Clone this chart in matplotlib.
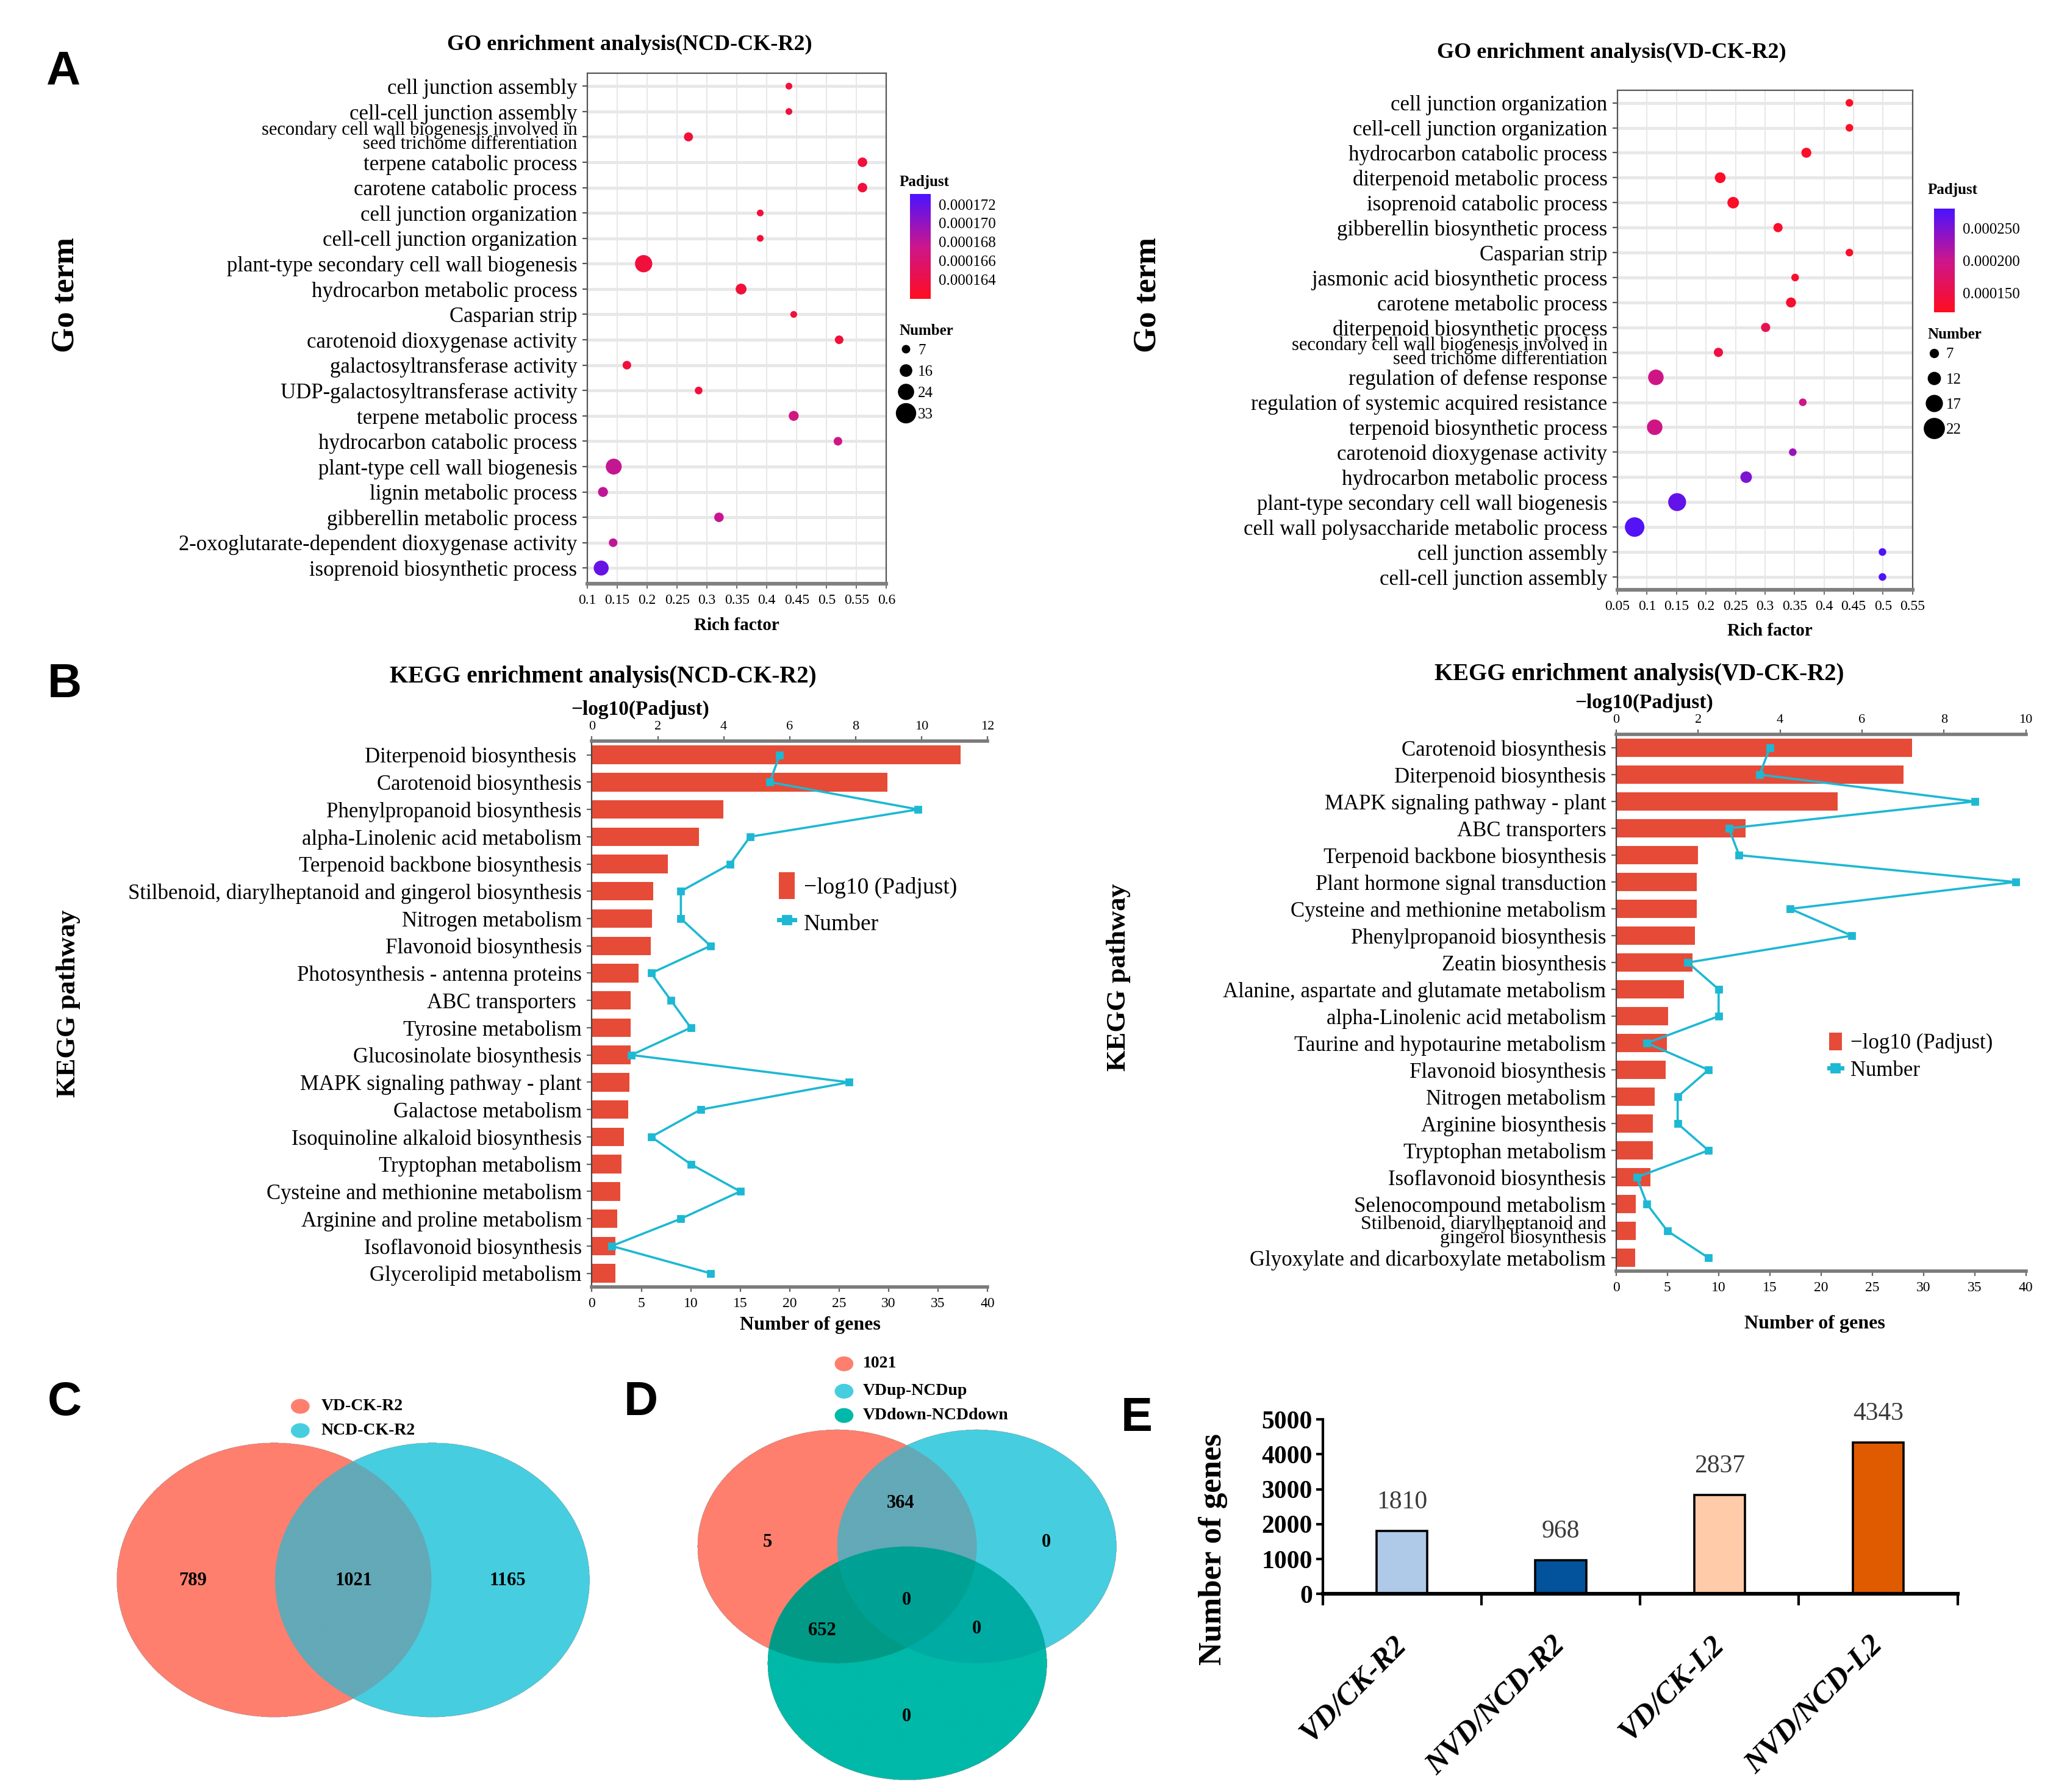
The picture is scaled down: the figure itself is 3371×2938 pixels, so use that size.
import numpy as np
import matplotlib.pyplot as plt
from matplotlib.colors import LinearSegmentedColormap, Normalize, to_rgba
from matplotlib.lines import Line2D
from matplotlib.patches import Patch, Ellipse
from matplotlib.transforms import ScaledTranslation

plt.rcParams['font.family'] = ['Liberation Serif', 'DejaVu Serif']

# ---------------- data ----------------
# A: GO enrichment (NCD-CK-R2)
go_ncd_terms = [
    'cell junction assembly',
    'cell-cell junction assembly',
    'secondary cell wall biogenesis involved in\nseed trichome differentiation',
    'terpene catabolic process',
    'carotene catabolic process',
    'cell junction organization',
    'cell-cell junction organization',
    'plant-type secondary cell wall biogenesis',
    'hydrocarbon metabolic process',
    'Casparian strip',
    'carotenoid dioxygenase activity',
    'galactosyltransferase activity',
    'UDP-galactosyltransferase activity',
    'terpene metabolic process',
    'hydrocarbon catabolic process',
    'plant-type cell wall biogenesis',
    'lignin metabolic process',
    'gibberellin metabolic process',
    '2-oxoglutarate-dependent dioxygenase activity',
    'isoprenoid biosynthetic process',
]
go_ncd_rich = [0.437, 0.437, 0.269, 0.560, 0.560, 0.389, 0.389, 0.194, 0.357, 0.445,
               0.521, 0.166, 0.286, 0.445, 0.519, 0.144, 0.126, 0.320, 0.143, 0.123]
go_ncd_number = [7, 7, 12, 13, 13, 7, 7, 30, 16, 7, 11, 11, 9, 14, 11, 27, 14, 13, 11, 25]
go_ncd_padj = [0.0001634, 0.0001634, 0.0001634, 0.0001634, 0.0001634, 0.0001634, 0.0001634,
               0.0001634, 0.0001634, 0.0001634, 0.0001634, 0.0001634, 0.0001634, 0.0001668,
               0.0001672, 0.0001678, 0.0001680, 0.0001676, 0.0001680, 0.0001718]
go_ncd_size_breaks = [7, 16, 24, 33]
go_ncd_padj_ticks = [0.000164, 0.000166, 0.000168, 0.000170, 0.000172]

# A: GO enrichment (VD-CK-R2)
go_vd_terms = [
    'cell junction organization',
    'cell-cell junction organization',
    'hydrocarbon catabolic process',
    'diterpenoid metabolic process',
    'isoprenoid catabolic process',
    'gibberellin biosynthetic process',
    'Casparian strip',
    'jasmonic acid biosynthetic process',
    'carotene metabolic process',
    'diterpenoid biosynthetic process',
    'secondary cell wall biogenesis involved in\nseed trichome differentiation',
    'regulation of defense response',
    'regulation of systemic acquired resistance',
    'terpenoid biosynthetic process',
    'carotenoid dioxygenase activity',
    'hydrocarbon metabolic process',
    'plant-type secondary cell wall biogenesis',
    'cell wall polysaccharide metabolic process',
    'cell junction assembly',
    'cell-cell junction assembly',
]
go_vd_rich = [0.443, 0.443, 0.370, 0.224, 0.246, 0.322, 0.443, 0.351, 0.344, 0.301,
              0.221, 0.115, 0.364, 0.113, 0.347, 0.268, 0.151, 0.079, 0.499, 0.499]
go_vd_number = [7, 7, 10, 11, 12, 9, 7, 7, 10, 9, 9, 17, 7, 17, 7, 12, 20, 22, 7, 7]
go_vd_padj = [0.000126, 0.000126, 0.000128, 0.000128, 0.000128, 0.000130, 0.000130, 0.000132,
              0.000132, 0.000158, 0.000145, 0.000195, 0.000198, 0.000195, 0.000232, 0.000250,
              0.000265, 0.000274, 0.000277, 0.000277]
go_vd_size_breaks = [7, 12, 17, 22]
go_vd_padj_ticks = [0.000150, 0.000200, 0.000250]

# B: KEGG enrichment (NCD-CK-R2)
kegg_ncd_paths = [
    'Diterpenoid biosynthesis ', 'Carotenoid biosynthesis', 'Phenylpropanoid biosynthesis',
    'alpha-Linolenic acid metabolism', 'Terpenoid backbone biosynthesis',
    'Stilbenoid, diarylheptanoid and gingerol biosynthesis', 'Nitrogen metabolism',
    'Flavonoid biosynthesis', 'Photosynthesis - antenna proteins', 'ABC transporters ',
    'Tyrosine metabolism', 'Glucosinolate biosynthesis', 'MAPK signaling pathway - plant',
    'Galactose metabolism', 'Isoquinoline alkaloid biosynthesis', 'Tryptophan metabolism',
    'Cysteine and methionine metabolism', 'Arginine and proline metabolism',
    'Isoflavonoid biosynthesis', 'Glycerolipid metabolism',
]
kegg_ncd_logp = [11.18, 8.97, 3.99, 3.25, 2.31, 1.87, 1.83, 1.79, 1.42, 1.18,
                 1.18, 1.18, 1.14, 1.10, 0.98, 0.90, 0.86, 0.76, 0.72, 0.72]
kegg_ncd_number = [19, 18, 33, 16, 14, 9, 9, 12, 6, 8, 10, 4, 26, 11, 6, 10, 15, 9, 2, 12]

# B: KEGG enrichment (VD-CK-R2)
kegg_vd_paths = [
    'Carotenoid biosynthesis', 'Diterpenoid biosynthesis', 'MAPK signaling pathway - plant',
    'ABC transporters', 'Terpenoid backbone biosynthesis', 'Plant hormone signal transduction',
    'Cysteine and methionine metabolism', 'Phenylpropanoid biosynthesis', 'Zeatin biosynthesis',
    'Alanine, aspartate and glutamate metabolism', 'alpha-Linolenic acid metabolism',
    'Taurine and hypotaurine metabolism', 'Flavonoid biosynthesis', 'Nitrogen metabolism',
    'Arginine biosynthesis', 'Tryptophan metabolism', 'Isoflavonoid biosynthesis',
    'Selenocompound metabolism', 'Stilbenoid, diarylheptanoid and\ngingerol biosynthesis',
    'Glyoxylate and dicarboxylate metabolism',
]
kegg_vd_logp = [7.22, 7.02, 5.40, 3.16, 2.00, 1.97, 1.97, 1.92, 1.86, 1.65,
                1.27, 1.24, 1.21, 0.94, 0.90, 0.90, 0.83, 0.48, 0.48, 0.46]
kegg_vd_number = [15, 14, 35, 11, 12, 39, 17, 23, 7, 10, 10, 3, 9, 6, 6, 9, 2, 3, 5, 9]

# C: Venn of DEGs
venn_c_sets = ['VD-CK-R2', 'NCD-CK-R2']
venn_c_counts = [789, 1021, 1165]          # only A, A&B, only B

# D: Venn of shared DEGs
venn_d_sets = ['1021', 'VDup-NCDup', 'VDdown-NCDdown']
venn_d_counts = [5, 364, 0, 0, 652, 0, 0]  # A, A&B, B, A&B&C, A&C, B&C, C

# E: number of DEGs
deg_groups = ['VD/CK-R2', 'NVD/NCD-R2', 'VD/CK-L2', 'NVD/NCD-L2']
deg_counts = [1810, 968, 2837, 4343]

# ---------------- styling ----------------
go_cmap = LinearSegmentedColormap.from_list('padj', ['#FF0D1F', '#CC168C', '#4B12FF'])
bar_red = '#E64B37'
line_cyan = '#1DB8D3'
deg_colors = ['#AFC9E9', '#02529C', '#FFCBA8', '#E05A00']
salmon, cyan, teal = '#FF7F6E', '#46CEE0', '#00B9A8'

W, H = 1568.0, 1366.0


def fx(x):
    return x / W


def fy(y):
    return 1 - y / H


def fig_box(left, top, right, bottom):
    return [left / W, 1 - bottom / H, (right - left) / W, (bottom - top) / H]


fig = plt.figure(figsize=(3371 / 200, 2938 / 200), dpi=200)


def panel_letter(x, y, s):
    fig.text(fx(x), fy(y), s, family='Liberation Sans', fontweight='bold',
             fontsize=28, ha='center', va='center')


def shrink_wrapped(ax, size):
    # two-line labels are squeezed so they crowd their neighbours less
    for t in ax.get_yticklabels():
        if '\n' in t.get_text():
            t.set_fontsize(size)
            t.set_linespacing(0.72)


def go_panel(rect, cbar_rect, terms, rich, number, padj, xlim, xticks, vmin, vmax,
             cticks, breaks, dsize, ylim_pad, title, title_xy, padj_xy, num_xy, leg_xy,
             leg_spacing, xlabel_xy, ylabel_xy):
    ax = fig.add_axes(rect)
    y = np.arange(len(terms))
    num = np.array(number, dtype=float)
    diam = dsize[0] + (num - breaks[0]) / (breaks[-1] - breaks[0]) * (dsize[1] - dsize[0])
    norm = Normalize(vmin=vmin, vmax=vmax)
    sc = ax.scatter(rich, y, s=diam ** 2, c=padj, cmap=go_cmap, norm=norm,
                    edgecolors='none', zorder=3)
    ax.set_xlim(*xlim)
    ax.set_ylim(len(terms) - 1 + ylim_pad[1], -ylim_pad[0])
    ax.set_yticks(y, terms, fontsize=12.5)
    ax.set_xticks(xticks, [f'{v:g}' for v in xticks], fontsize=8.5)
    shrink_wrapped(ax, 11)
    ax.grid(axis='x', color='#E3E3E3', lw=0.6)
    ax.grid(axis='y', color='#E8E8E8', lw=1.8)
    ax.set_axisbelow(True)
    for s in ['left', 'right', 'top']:
        ax.spines[s].set_color('#555555')
        ax.spines[s].set_linewidth(0.8)
    ax.spines['bottom'].set_color('#808080')
    ax.spines['bottom'].set_linewidth(2.2)
    ax.tick_params(axis='y', length=3, width=0.8, color='#555555', pad=3)
    ax.tick_params(axis='x', length=3, width=0.6, color='#555555', pad=3)

    fig.text(fx(title_xy[0]), fy(title_xy[1]), title, fontsize=13, fontweight='bold',
             ha='center', va='center')
    fig.text(fx(xlabel_xy[0]), fy(xlabel_xy[1]), 'Rich factor', fontsize=10.5,
             fontweight='bold', ha='center', va='center')
    fig.text(fx(ylabel_xy[0]), fy(ylabel_xy[1]), 'Go term', fontsize=19,
             fontweight='bold', rotation=90, ha='center', va='center')

    cax = fig.add_axes(cbar_rect)
    cb = fig.colorbar(sc, cax=cax, ticks=cticks)
    cb.ax.set_yticklabels([f'{v:.6f}' for v in cticks], fontsize=9)
    cb.outline.set_visible(False)
    cb.ax.tick_params(length=2.5, width=0.6, color='white', pad=2)
    fig.text(fx(padj_xy[0]), fy(padj_xy[1]), 'Padjust', fontsize=9,
             fontweight='bold', ha='left', va='center')
    fig.text(fx(num_xy[0]), fy(num_xy[1]), 'Number', fontsize=9,
             fontweight='bold', ha='left', va='center')

    bdiam = [dsize[0] + (b - breaks[0]) / (breaks[-1] - breaks[0]) * (dsize[1] - dsize[0])
             for b in breaks]
    handles = [Line2D([], [], ls='', marker='o', color='black', markersize=d) for d in bdiam]
    ax.legend(handles, [str(b) for b in breaks], loc='upper left',
              bbox_to_anchor=(fx(leg_xy[0]), fy(leg_xy[1])),
              bbox_transform=fig.transFigure, frameon=False, fontsize=9,
              labelspacing=leg_spacing, handletextpad=0.3,
              handlelength=1.0, borderpad=0, borderaxespad=0)
    return ax


go_panel(fig_box(448, 56, 676, 445), fig_box(694, 148, 710, 228),
         go_ncd_terms, go_ncd_rich, go_ncd_number, go_ncd_padj,
         (0.1, 0.6), np.round(np.arange(0.1, 0.601, 0.05), 2), 0.0001619, 0.0001731,
         go_ncd_padj_ticks, go_ncd_size_breaks, (4.0, 11.0), (0.5, 0.62),
         'GO enrichment analysis(NCD-CK-R2)', (480, 34), (686, 139), (686, 252),
         (685, 262), 0.5, (562, 477), (50, 225))

go_panel(fig_box(1233.6, 68.6, 1458.6, 449.6), fig_box(1475, 159, 1491, 238),
         go_vd_terms, go_vd_rich, go_vd_number, go_vd_padj,
         (0.05, 0.55), np.round(np.arange(0.05, 0.551, 0.05), 2), 0.000121, 0.000280,
         go_vd_padj_ticks, go_vd_size_breaks, (4.5, 11.5), (0.515, 0.515),
         'GO enrichment analysis(VD-CK-R2)', (1229, 40), (1470, 145), (1470, 255),
         (1469, 265), 0.75, (1350, 481), (875, 225))


def kegg_panel(rect, paths, logp, number, top_max, title, title_xy, sub_xy,
               xlabel_xy, ylabel_xy, leg_xy, leg_kw):
    ax = fig.add_axes(rect)
    y = np.arange(len(paths))
    ax.barh(y, logp, height=0.68, color=bar_red, zorder=2)
    ax.set_xlim(0, top_max)
    ax.set_ylim(len(paths) - 0.5, -0.5)
    ax.set_yticks(y, paths, fontsize=12.5)
    shrink_wrapped(ax, 11.5)

    ax2 = ax.twiny()
    ax2.plot(number, y, color=line_cyan, marker='s', ms=3.5, lw=1.3, zorder=3)
    ax2.set_xlim(0, 40)
    ax2.set_xticks(np.arange(0, 41, 5))
    ax2.xaxis.tick_bottom()
    ax2.tick_params(axis='x', labelsize=8.5, length=3, color='#666666', pad=3)
    for s in ['top', 'right', 'left']:
        ax2.spines[s].set_visible(False)
    ax2.spines['bottom'].set_color('#7A7A7A')
    ax2.spines['bottom'].set_linewidth(2.0)

    # bars use the top axis (-log10 Padjust)
    ax.xaxis.tick_top()
    ax.set_xticks(np.arange(0, top_max + 1, 2))
    ax.tick_params(axis='x', labelsize=8, length=3, color='#666666', pad=2)
    ax.tick_params(axis='y', length=3, width=0.8, color='#666666', pad=3)
    ax.spines['right'].set_visible(False)
    ax.spines['bottom'].set_visible(False)
    ax.spines['top'].set_color('#7A7A7A')
    ax.spines['top'].set_linewidth(2.0)
    ax.spines['left'].set_color('#444444')
    ax.spines['left'].set_linewidth(0.8)

    fig.text(fx(title_xy[0]), fy(title_xy[1]), title, fontsize=14, fontweight='bold',
             ha='center', va='center')
    fig.text(fx(sub_xy[0]), fy(sub_xy[1]), '\u2212log10(Padjust)', fontsize=12,
             fontweight='bold', ha='center', va='center')
    fig.text(fx(xlabel_xy[0]), fy(xlabel_xy[1]), 'Number of genes', fontsize=11.5,
             fontweight='bold', ha='center', va='center')
    fig.text(fx(ylabel_xy[0]), fy(ylabel_xy[1]), 'KEGG pathway', fontsize=16,
             fontweight='bold', rotation=90, ha='center', va='center')

    handles = [Patch(facecolor=bar_red, edgecolor='none'),
               Line2D([], [], color=line_cyan, marker='s', ms=5, lw=2.5)]
    ax2.legend(handles, ['\u2212log10 (Padjust)', 'Number'], loc='upper left',
               bbox_to_anchor=(fx(leg_xy[0]), fy(leg_xy[1])), bbox_transform=fig.transFigure,
               frameon=False, borderpad=0, borderaxespad=0, **leg_kw)


kegg_panel(fig_box(451.4, 565, 753, 981), kegg_ncd_paths, kegg_ncd_logp, kegg_ncd_number,
           12, 'KEGG enrichment analysis(NCD-CK-R2)', (460, 516), (488, 541),
           (618, 1010), (52, 765), (594, 665),
           dict(fontsize=13.5, handlelength=0.7, handleheight=1.4, handletextpad=0.4,
                labelspacing=0.45))
kegg_panel(fig_box(1232.6, 559.8, 1545, 969), kegg_vd_paths, kegg_vd_logp, kegg_vd_number,
           10, 'KEGG enrichment analysis(VD-CK-R2)', (1250, 514), (1254, 536),
           (1384, 1009), (853, 745), (1395, 787),
           dict(fontsize=12.5, handlelength=0.6, handleheight=0.9, handletextpad=0.4,
                labelspacing=0.3))

# ---------------- C & D: Venn diagrams ----------------
axv = fig.add_axes(fig_box(0, 1030, 860, 1366))
axv.set_xlim(0, 860)
axv.set_ylim(1366, 1030)
axv.axis('off')

gx = np.linspace(80, 860, 2800)
gy = np.linspace(1085, 1366, 1010)
X, Y = np.meshgrid(gx, gy)


def inside(cx, cy, w, h):
    return ((X - cx) / (w / 2)) ** 2 + ((Y - cy) / (h / 2)) ** 2 <= 1


c_shapes = [(209, 1204.5, 240, 209), (329.6, 1204.5, 240, 209)]
d_shapes = [(638.5, 1179, 213, 178), (745, 1179, 213, 178), (692, 1268, 213, 178)]

code_c = inside(*c_shapes[0]) * 1 + inside(*c_shapes[1]) * 2
code_d = inside(*d_shapes[0]) * 1 + inside(*d_shapes[1]) * 2 + inside(*d_shapes[2]) * 4
img = np.zeros(X.shape + (4,))
c_colors = {1: salmon, 2: cyan, 3: '#63A9B7'}
d_colors = {1: salmon, 2: cyan, 3: '#63A9B7', 4: teal, 5: '#009A86', 6: '#00ABA3', 7: '#00A195'}
for k, col in c_colors.items():
    img[code_c == k] = to_rgba(col)
for k, col in d_colors.items():
    img[code_d == k] = to_rgba(col)
axv.imshow(img, extent=(80, 860, 1366, 1085), origin='upper', aspect='auto',
           interpolation='antialiased', zorder=1)

c_text_xy = [(147, 1205), (270, 1205), (387, 1205)]
for (tx, ty), v in zip(c_text_xy, venn_c_counts):
    axv.text(tx, ty, str(v), ha='center', va='center', fontsize=11, fontweight='bold', zorder=3)
d_text_xy = [(585.5, 1175.5), (686.8, 1146), (797.8, 1175.5), (691.4, 1219.6),
             (627, 1243), (745, 1241.7), (691.4, 1308.5)]
for (tx, ty), v in zip(d_text_xy, venn_d_counts):
    axv.text(tx, ty, str(v), ha='center', va='center', fontsize=11, fontweight='bold', zorder=3)

for name, col, ly in zip(venn_c_sets, [salmon, cyan], [1072, 1090.5]):
    axv.add_patch(Ellipse((229, ly), 13, 10, color=col, zorder=3))
    axv.text(245, ly, name, ha='left', va='center', fontsize=10, fontweight='bold')
for name, col, ly in zip(venn_d_sets, [salmon, cyan, teal], [1039.6, 1060.5, 1079]):
    axv.add_patch(Ellipse((643.7, ly), 13, 10, color=col, zorder=3))
    axv.text(658, ly, name, ha='left', va='center', fontsize=10, fontweight='bold')

# ---------------- E: number of DEGs ----------------
axe = fig.add_axes(fig_box(1008.7, 1082, 1493, 1215))
xe = np.arange(len(deg_groups))
axe.bar(xe, deg_counts, width=0.32, color=deg_colors, edgecolor='black', linewidth=1.3,
        zorder=2)
for xi, v in zip(xe, deg_counts):
    axe.annotate(str(v), (xi, v), xytext=(0, 17), textcoords='offset points',
                 ha='center', va='center', fontsize=15, color='#3A3A3A', annotation_clip=False)
axe.set_ylim(0, 5000)
axe.set_yticks(np.arange(0, 5001, 1000))
axe.set_yticklabels([str(v) for v in range(0, 5001, 1000)], fontsize=15, fontweight='bold')
axe.set_xlim(-0.5, len(deg_groups) - 0.5)
axe.set_xticks(xe, deg_groups, rotation=45, ha='right', va='top', fontsize=18,
               fontweight='bold', fontstyle='italic')
axe.set_xticks(np.arange(-0.5, len(deg_groups)), minor=True)
axe.tick_params(axis='x', which='major', length=0, pad=22)
axe.tick_params(axis='x', which='minor', length=7, width=1.5, direction='out')
axe.tick_params(axis='y', length=4, width=1.5, pad=2)
for lab in axe.get_xticklabels():
    lab.set_transform(lab.get_transform() + ScaledTranslation(6 / 72, 0, fig.dpi_scale_trans))
for s in ['top', 'right']:
    axe.spines[s].set_visible(False)
axe.spines['left'].set_linewidth(1.5)
axe.spines['bottom'].set_linewidth(2.2)
fig.text(fx(925), fy(1181), 'Number of genes', fontsize=19, fontweight='bold',
         rotation=90, ha='center', va='center')

panel_letter(48, 55, 'A')
panel_letter(49, 522, 'B')
panel_letter(49, 1069, 'C')
panel_letter(489, 1069, 'D')
panel_letter(867, 1081, 'E')

fig.savefig('out.png', dpi=200, facecolor='white')
